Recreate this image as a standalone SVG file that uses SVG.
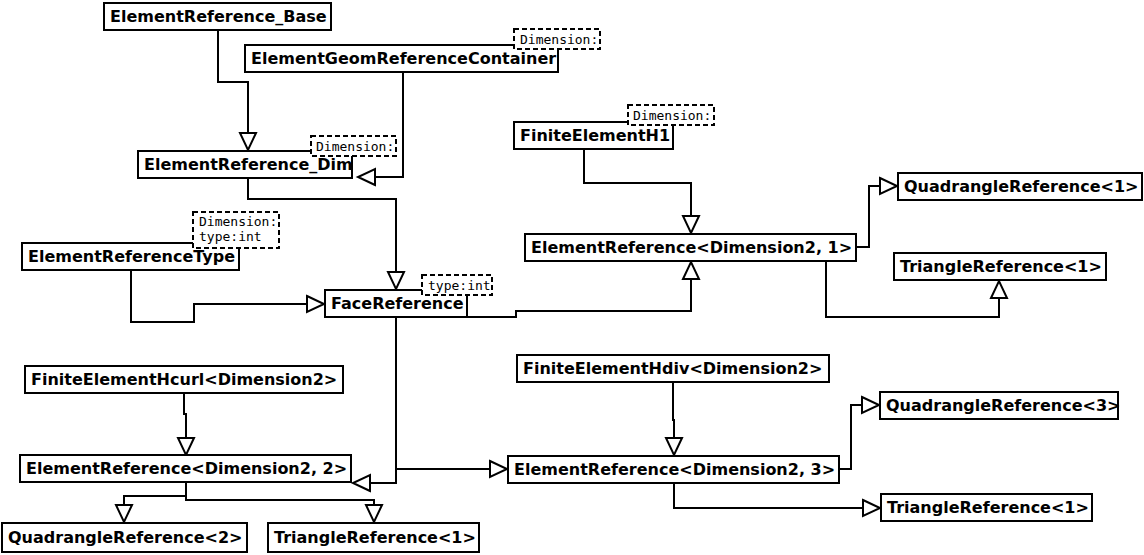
<svg xmlns="http://www.w3.org/2000/svg" width="1144" height="555" viewBox="0 0 1144 555">
<style>
.box{fill:#fff;stroke:#000;stroke-width:2}
.tpl{fill:#fff;stroke:#000;stroke-width:2;stroke-dasharray:5,3}
.t{font-family:"DejaVu Sans",sans-serif;font-weight:bold;font-size:16px;fill:#000}
.m{font-family:"DejaVu Sans Mono",monospace;font-size:13px;fill:#000}
.c path{fill:none;stroke:#000;stroke-width:2;marker-end:url(#gen)}
</style>
<defs>
<marker id="gen" markerUnits="userSpaceOnUse" markerWidth="20" markerHeight="20" refX="17" refY="8" orient="auto" overflow="visible">
<path d="M0,0 L17,8 L0,16 Z" fill="#fff" stroke="#000" stroke-width="2"/>
</marker>
</defs>
<rect width="1144" height="555" fill="#fff"/>
<g id="connectors" class="c">
<path d="M218,29 V82 H248 V150"/>
<path d="M403,71 V177 H358"/>
<path d="M248,178 V199 H396 V289"/>
<path d="M131,270 V322 H194 V304 H324"/>
<path d="M584,148 V183 H691 V233"/>
<path d="M467,317 H516 V311 H691 V262"/>
<path d="M856,247 H869 V186 H897"/>
<path d="M826,261 V317 H999 V281"/>
<path d="M396,317 V483 H353"/>
<path d="M396,469 H507"/>
<path d="M184,393 V414 H186 V455"/>
<path d="M186,482 V496 H124 V522"/>
<path d="M186,496 V500 H374 V522"/>
<path d="M673,382 V420 H674 V455"/>
<path d="M839,469 H851 V405 H879"/>
<path d="M674,483 V508 H880"/>
</g>
<g id="ElementReference_Base"><rect class="box" x="104" y="3" width="227" height="27"/><text class="t" x="110" y="22">ElementReference_Base</text></g>
<g id="ElementGeomReferenceContainer"><rect class="box" x="245" y="45" width="313" height="27"/><text class="t" x="251" y="64">ElementGeomReferenceContainer</text><rect class="tpl" x="514" y="29" width="86" height="20"/><text class="m" x="520" y="44">Dimension:</text></g>
<g id="ElementReference_Dim"><rect class="box" x="138" y="151" width="214" height="27"/><text class="t" x="144" y="170">ElementReference_Dim</text><rect class="tpl" x="311" y="136" width="85" height="20"/><text class="m" x="316" y="151">Dimension:</text></g>
<g id="ElementReferenceType"><rect class="box" x="22" y="243" width="217" height="27"/><text class="t" x="28" y="262">ElementReferenceType</text><rect class="tpl" x="193" y="212" width="86" height="36"/><text class="m" x="199" y="226">Dimension:</text><text class="m" x="199" y="241">type:int</text></g>
<g id="FaceReference"><rect class="box" x="325" y="290" width="142" height="27"/><text class="t" x="331" y="309">FaceReference</text><rect class="tpl" x="422" y="275" width="70" height="20"/><text class="m" x="428" y="290">type:int</text></g>
<g id="FiniteElementH1"><rect class="box" x="514" y="122" width="159" height="27"/><text class="t" x="520" y="141">FiniteElementH1</text><rect class="tpl" x="628" y="105" width="86" height="20"/><text class="m" x="633" y="120">Dimension:</text></g>
<g id="ElementReference_D2_1"><rect class="box" x="525" y="234" width="331" height="27"/><text class="t" x="531" y="253">ElementReference&lt;Dimension2, 1&gt;</text></g>
<g id="QuadrangleReference_1"><rect class="box" x="898" y="173" width="244" height="27"/><text class="t" x="904" y="192">QuadrangleReference&lt;1&gt;</text></g>
<g id="TriangleReference_1a"><rect class="box" x="894" y="253" width="212" height="27"/><text class="t" x="900" y="272">TriangleReference&lt;1&gt;</text></g>
<g id="FiniteElementHcurl"><rect class="box" x="25" y="366" width="318" height="27"/><text class="t" x="31" y="385">FiniteElementHcurl&lt;Dimension2&gt;</text></g>
<g id="ElementReference_D2_2"><rect class="box" x="20" y="455" width="331" height="27"/><text class="t" x="26" y="474">ElementReference&lt;Dimension2, 2&gt;</text></g>
<g id="QuadrangleReference_2"><rect class="box" x="2" y="523" width="245" height="29"/><text class="t" x="8" y="543">QuadrangleReference&lt;2&gt;</text></g>
<g id="TriangleReference_1b"><rect class="box" x="268" y="523" width="211" height="29"/><text class="t" x="274" y="543">TriangleReference&lt;1&gt;</text></g>
<g id="FiniteElementHdiv"><rect class="box" x="517" y="355" width="312" height="27"/><text class="t" x="523" y="374">FiniteElementHdiv&lt;Dimension2&gt;</text></g>
<g id="ElementReference_D2_3"><rect class="box" x="508" y="456" width="331" height="27"/><text class="t" x="514" y="475">ElementReference&lt;Dimension2, 3&gt;</text></g>
<g id="QuadrangleReference_3"><rect class="box" x="880" y="392" width="238" height="27"/><text class="t" x="886" y="411">QuadrangleReference&lt;3&gt;</text></g>
<g id="TriangleReference_1c"><rect class="box" x="881" y="494" width="211" height="27"/><text class="t" x="887" y="513">TriangleReference&lt;1&gt;</text></g>
</svg>
